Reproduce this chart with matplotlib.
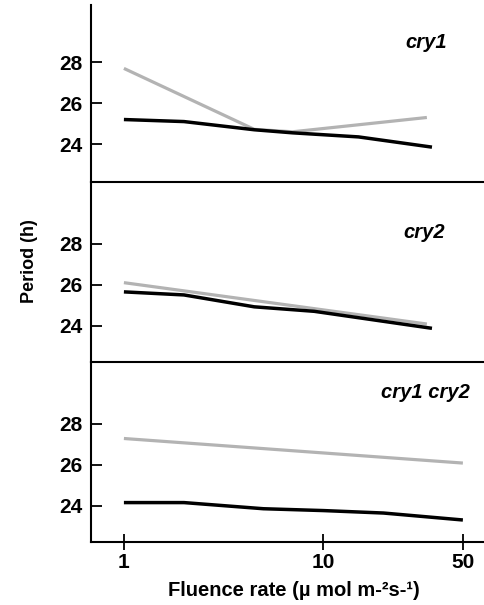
import numpy as np
import matplotlib
matplotlib.use("Agg")
import matplotlib.pyplot as plt

plt.rcParams['font.family'] = ['Liberation Sans', 'DejaVu Sans']
plt.rcParams['font.weight'] = 'bold'

# -------------------------------------------------------------
# Data
# -------------------------------------------------------------
panel_names = ['cry1', 'cry2', 'cry1 cry2']

cry1_black_x = [1, 2, 4.5, 7, 15, 35]
cry1_black_y = [25.2, 25.1, 24.7, 24.55, 24.35, 23.85]
cry1_gray_x = [1, 4.5, 7, 33]
cry1_gray_y = [27.7, 24.72, 24.6, 25.3]

cry2_black_x = [1, 2, 4.5, 9, 35]
cry2_black_y = [25.65, 25.5, 24.92, 24.7, 23.87]
cry2_gray_x = [1, 33]
cry2_gray_y = [26.1, 24.08]

dbl_black_x = [1, 2, 5, 10, 20, 50]
dbl_black_y = [24.15, 24.15, 23.85, 23.76, 23.64, 23.3]
dbl_gray_x = [1, 50]
dbl_gray_y = [27.28, 26.08]

yticks = [24, 26, 28]
xticks = [1, 10, 50]
xtick_labels = ['1', '10', '50']

# -------------------------------------------------------------
# Figure
# -------------------------------------------------------------
W, H = 484, 605
fig = plt.figure(figsize=(W / 100, H / 100), dpi=100)

left = 91 / W
width = (W - 91) / W
# (top_px, bottom_px, ylim)
panels = [
    (5, 181.7, (22.16, 30.8)),
    (181.7, 361.7, (22.24, 31.03)),
    (361.7, 541.7, (22.24, 31.03)),
]
series = [
    (cry1_black_x, cry1_black_y, cry1_gray_x, cry1_gray_y),
    (cry2_black_x, cry2_black_y, cry2_gray_x, cry2_gray_y),
    (dbl_black_x, dbl_black_y, dbl_gray_x, dbl_gray_y),
]
label_pos = [(447, 42), (445, 232), (470, 393)]

gray = '#b3b3b3'
for i, ((top, bot, ylim), (bx, by, gx, gy)) in enumerate(zip(panels, series)):
    ax = fig.add_axes([left, 1 - bot / H, width, (bot - top) / H])
    ax.plot(gx, gy, color=gray, lw=2.3, solid_capstyle='butt')
    ax.plot(bx, by, color='black', lw=2.5, solid_capstyle='butt')
    ax.set_xscale('log')
    ax.set_xlim(0.684, 63.8)
    ax.set_ylim(*ylim)
    ax.spines['top'].set_visible(False)
    ax.spines['right'].set_visible(False)
    ax.spines['left'].set_linewidth(1.5)
    ax.spines['bottom'].set_linewidth(1.5)
    ax.set_yticks(yticks)
    ax.set_yticklabels([str(t) for t in yticks], fontsize=15, fontweight='bold')
    ax.tick_params(axis='y', direction='in', length=8, width=1.3, pad=6)
    ax.minorticks_off()
    if i < 2:
        ax.set_xticks([])
    else:
        ax.set_xticks(xticks)
        ax.set_xticklabels(xtick_labels, fontsize=15, fontweight='bold')
        ax.tick_params(axis='x', direction='inout', length=12, width=1.3, pad=2)
    ax.patch.set_alpha(0)
    lx, ly = label_pos[i]
    fig.text(lx / W, 1 - ly / H, panel_names[i], ha='right', va='center',
             fontsize=14.5, fontweight='bold', fontstyle='italic')

fig.text(30 / W, 1 - 261 / H, 'Period (h)', rotation=90, ha='center', va='center',
         fontsize=13, fontweight='bold')
fig.text(294 / W, 1 - 590 / H, 'Fluence rate (µ mol m-²s-¹)', ha='center', va='center',
         fontsize=14.5, fontweight='bold')

fig.savefig('out.png', dpi=100)
